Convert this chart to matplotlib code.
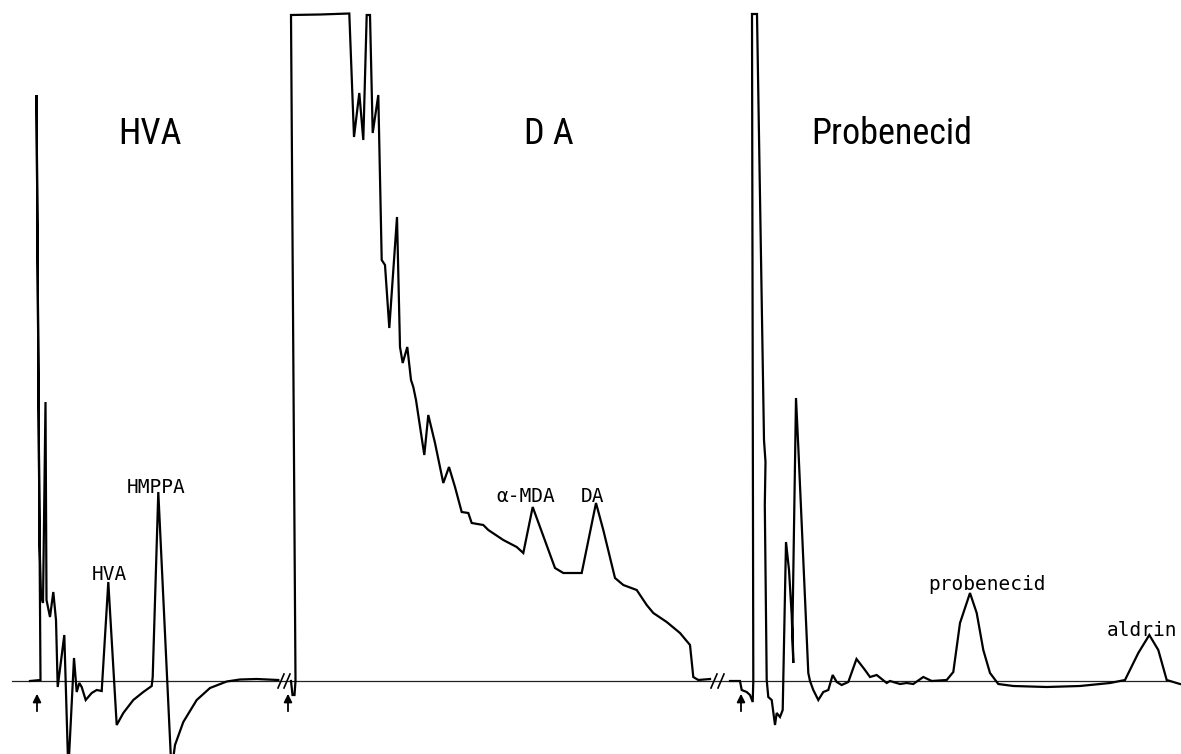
import matplotlib.pyplot as plt

# GC traces of three extracts (elution time, detector response), baseline = 0
hva_time = [30, 40.5, 36.5, 39.5, 41, 43, 45.5, 46.5, 50, 53.3, 56, 57.7, 64.3, 68.3,
            74, 76.7, 79.3, 81.7, 85.7, 91.7, 96.7, 101.7, 108.3, 116.7, 123.3, 133.3,
            143.3, 151.7, 152.7, 158.3, 171.5, 175, 183.3, 196.7, 210, 226.7, 240,
            256.7, 278.3]
hva_resp = [0, 1, 586, 141, 86, 78, 279, 81, 64, 89, 61, -6, 46, -90,
            23, -11, -2, -6, -19, -12, -9, -10, 99, -44, -32, -19,
            -11, -5, 4, 189, -90, -64, -41, -19, -7, -0.5, 1.5,
            2, 1]

da_time = [291, 292.5, 294.5, 295.5, 291, 320, 349.3, 354, 359.3, 363.3, 366.7, 370,
           372.7, 378.3, 381.7, 385, 389.3, 397, 400, 402.7, 407.3, 411, 413.3, 416,
           424.3, 428.3, 435, 443.3, 449, 455, 461.7, 468.3, 471.7, 483.3, 488.3,
           503.3, 516.7, 523.3, 532.7, 540, 555, 563.3, 581.7, 596, 603.3, 615,
           623.3, 636.7, 646.7, 653.3, 666.7, 680, 690, 693.3, 698.3, 710]
da_resp = [0, -14, -14, 0, 666, 666.5, 667.5, 544, 588, 541, 666, 666,
           548, 586, 421, 416, 353, 464, 334, 318, 334, 301, 294, 281,
           226, 266, 238, 198, 214, 194, 169, 168, 158, 156, 151,
           141, 134, 128, 174, 154, 113, 108, 108, 178, 151, 103,
           96, 91, 76, 68, 59, 48, 36, 4, 1, 2]

prob_time = [730, 740, 741.7, 746.7, 750, 752.7, 753.3, 752, 757, 764, 765.5, 764.8,
             766.7, 768.3, 771.7, 775, 776.7, 780, 782.7, 786, 789, 791.7, 793.3,
             792.5, 796, 798.3, 808.3, 810, 813.3, 818.3, 823.3, 828.3, 832.7, 836.7,
             841.7, 848.3, 856.5, 865, 870, 876.7, 886.7, 890, 900, 906.7, 913.3,
             923.3, 931.7, 946.7, 953.3, 960, 970, 976.7, 983.3, 990, 998.3, 1013.3,
             1046.7, 1080, 1110, 1125, 1138.3, 1149.3, 1158.3, 1166.7, 1180]
prob_resp = [0, 0, -9, -11, -14, -21, 0, 667, 667, 241, 219, 176,
             1, -16, -19, -44, -32, -36, -29, 139, 111, 66, 18,
             56, 283, 234, 8, 0, -9, -19, -11, -9, 6, -1,
             -4, -1, 22, 11, 4, 6, -2, 0, -3, -2, -3,
             4, 0, 1, 9, 58, 88, 68, 31, 8, -3, -5,
             -6, -5, -2, 1, 28, 46, 31, 1, -3]

# injection points and chart-paper breaks
injections = [37, 288, 741]
breaks = [281, 287, 714, 721]

# section titles (x, text)
titles = [(150, 'HVA'), (549, 'D A'), (892, 'Probenecid')]
# peak names (x, y, text)
peaks = [(109, 101, 'HVA'), (156, 188, 'HMPPA'), (526, 179, 'α-MDA'),
         (592.5, 179, 'DA'), (987.5, 91, 'probenecid'), (1142.5, 45, 'aldrin')]

fig = plt.figure(figsize=(11.81, 7.54), dpi=100)
ax = fig.add_axes([0, 0, 1, 1])
ax.set_xlim(0, 1181)
ax.set_ylim(-73, 681)
ax.axis('off')

ax.plot([12, 1170], [0, 0], color='#222222', lw=0.9)
for t, r in [(hva_time, hva_resp), (da_time, da_resp), (prob_time, prob_resp)]:
    ax.plot(t, r, color='black', lw=1.6, solid_joinstyle='miter')

for b in breaks:
    ax.plot([b - 3, b + 3], [-7, 7], color='black', lw=1.2)

for x in injections:
    ax.annotate('', xy=(x, -10), xytext=(x, -33),
                arrowprops=dict(arrowstyle='-|>', color='black', lw=1.3,
                                mutation_scale=12))

for x, txt in titles:
    ax.text(x, 547, txt, ha='center', va='center', fontsize=26,
            family=['Roboto Condensed', 'Sofia Sans Condensed', 'DejaVu Sans'])

for x, y, txt in peaks:
    ax.text(x, y, txt, ha='center', va='baseline', fontsize=14,
            family='DejaVu Sans Mono')

fig.savefig('out.png', dpi=100)
